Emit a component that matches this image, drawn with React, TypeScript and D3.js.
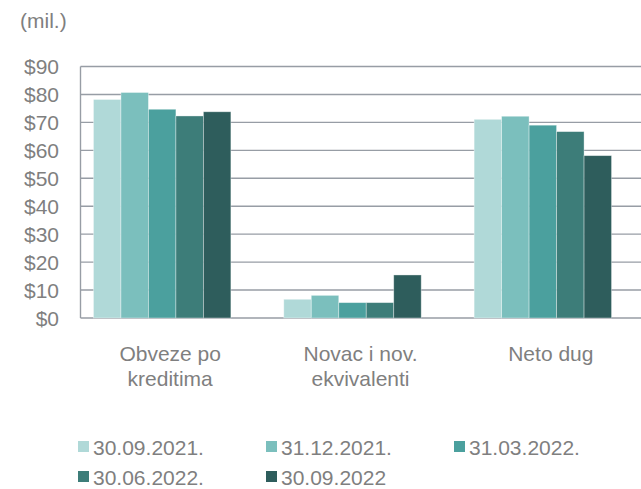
import * as d3 from 'd3';
import { useEffect, useRef } from 'react';

const categories = [
  ['Obveze po', 'kreditima'],
  ['Novac i nov.', 'ekvivalenti'],
  ['Neto dug'],
];

const seriesNames = ['30.09.2021.', '31.12.2021.', '31.03.2022.', '30.06.2022.', '30.09.2022'];
const seriesColors = ['#B0D9D8', '#7BBFBD', '#4BA09E', '#3D7D79', '#2E5D5C'];

// values per series, one per category
const seriesValues = [
  [78.2, 6.7, 71.1],
  [80.7, 8.1, 72.2],
  [74.7, 5.5, 69.0],
  [72.3, 5.5, 66.7],
  [73.8, 15.4, 58.1],
];

const yTicks = [0, 10, 20, 30, 40, 50, 60, 70, 80, 90];

export default function App() {
  const ref = useRef<SVGSVGElement | null>(null);

  useEffect(() => {
    const width = 641;
    const height = 489;
    const font = 'Liberation Sans, Arial, sans-serif';
    const textColor = '#7F7F7F';
    const gridColor = '#979DA5';

    const svg = d3.select(ref.current);
    svg.selectAll('*').remove();
    svg.attr('width', width).attr('height', height);

    const plotLeft = 80.5;
    const plotRight = 641;

    const y = d3.scaleLinear().domain([0, 90]).range([318, 66.5]);

    const x = d3
      .scaleBand<number>()
      .domain(d3.range(categories.length))
      .range([67, 638])
      .paddingInner(0.278)
      .paddingOuter(0.139);

    const xs = d3
      .scaleBand<number>()
      .domain(d3.range(seriesNames.length))
      .range([0, x.bandwidth()]);

    /* ---------- units label ---------- */
    svg
      .append('text')
      .attr('x', 20)
      .attr('y', 28)
      .attr('fill', textColor)
      .style('font-family', font)
      .style('font-size', '21px')
      .text('(mil.)');

    /* ---------- gridlines ---------- */
    svg
      .selectAll('.grid')
      .data(yTicks)
      .enter()
      .append('line')
      .attr('x1', plotLeft)
      .attr('x2', plotRight)
      .attr('y1', d => y(d))
      .attr('y2', d => y(d))
      .attr('stroke', gridColor)
      .attr('stroke-width', 1.4);

    svg
      .append('line')
      .attr('x1', plotLeft)
      .attr('x2', plotLeft)
      .attr('y1', y(90))
      .attr('y2', y(0))
      .attr('stroke', gridColor)
      .attr('stroke-width', 1.4);

    /* ---------- y tick labels ---------- */
    svg
      .selectAll('.ytick')
      .data(yTicks)
      .enter()
      .append('text')
      .attr('x', 59)
      .attr('y', d => y(d))
      .attr('dy', '0.36em')
      .attr('text-anchor', 'end')
      .attr('fill', textColor)
      .style('font-family', font)
      .style('font-size', '21px')
      .text(d => `$${d}`);

    /* ---------- bars ---------- */
    seriesValues.forEach((vals, si) => {
      svg
        .append('g')
        .selectAll('rect')
        .data(vals)
        .enter()
        .append('rect')
        .attr('x', (_, ci) => (x(ci) ?? 0) + (xs(si) ?? 0))
        .attr('y', d => y(d))
        .attr('width', xs.bandwidth())
        .attr('height', d => y(0) - y(d))
        .attr('fill', seriesColors[si])
        .attr('stroke', 'rgba(255,255,255,0.45)')
        .attr('stroke-width', 0.8);
    });

    /* ---------- x labels ---------- */
    categories.forEach((lines, ci) => {
      const cx = (x(ci) ?? 0) + x.bandwidth() / 2 + 8;
      const t = svg
        .append('text')
        .attr('text-anchor', 'middle')
        .attr('fill', textColor)
        .style('font-family', font)
        .style('font-size', '21px');
      lines.forEach((line, li) => {
        t.append('tspan')
          .attr('x', cx)
          .attr('y', 361 + li * 24.5)
          .text(line);
      });
    });

    /* ---------- legend ---------- */
    const legendCols = [78, 266, 454];
    const legendRows = [455, 485];
    seriesNames.forEach((name, i) => {
      const lx = legendCols[i % 3];
      const ly = legendRows[Math.floor(i / 3)];
      const g = svg.append('g');
      g.append('rect')
        .attr('x', lx)
        .attr('y', ly - 14)
        .attr('width', 11)
        .attr('height', 11)
        .attr('fill', seriesColors[i]);
      g.append('text')
        .attr('x', lx + 15)
        .attr('y', ly)
        .attr('fill', textColor)
        .style('font-family', font)
        .style('font-size', '21px')
        .text(name);
    });
  }, []);

  return (
    <div style={{ position: 'absolute', left: 0, top: 0 }}>
      <svg ref={ref} style={{ display: 'block' }} />
    </div>
  );
}
